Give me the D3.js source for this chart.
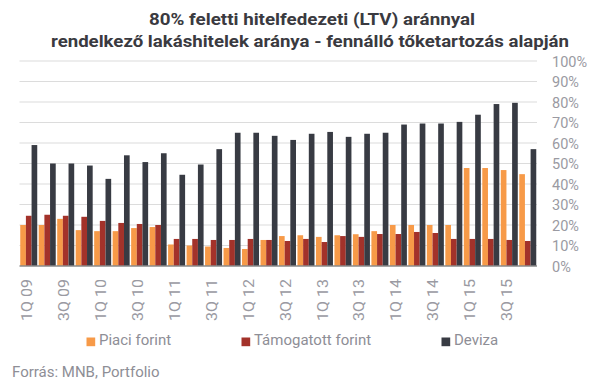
<!DOCTYPE html>
<html>
<head>
<meta charset="utf-8">
<script src="https://cdn.jsdelivr.net/npm/d3@7"></script>
<style>
  html, body { margin: 0; padding: 0; background: #fff; }
  svg { display: block; font-family: Roboto, "Noto Sans", sans-serif; }
</style>
</head>
<body>
<svg id="chart" width="608" height="383"></svg>
<script>
const categories = [
  "1Q 09","2Q 09","3Q 09","4Q 09","1Q 10","2Q 10","3Q 10","4Q 10",
  "1Q 11","2Q 11","3Q 11","4Q 11","1Q 12","2Q 12","3Q 12","4Q 12",
  "1Q 13","2Q 13","3Q 13","4Q 13","1Q 14","2Q 14","3Q 14","4Q 14",
  "1Q 15","2Q 15","3Q 15","4Q 15"
];
const piaciForint = [20, 20, 23, 17.5, 17, 17, 18.5, 19, 10.5, 10, 9.5, 8.8, 8.3, 12.7, 14.6, 15, 14.2, 15, 15.5, 17, 20, 20, 20, 20, 47.8, 47.8, 46.8, 44.8];
const tamogatottForint = [24.5, 25, 24.5, 24, 22, 21, 20.5, 20, 13.2, 13.2, 12.7, 12.7, 13.2, 12.7, 12.2, 13.2, 11.7, 14.6, 14.2, 15.6, 15.6, 16.6, 16.1, 13.2, 13.2, 13.2, 12.7, 12.2];
const deviza = [59, 50, 50, 49, 42.5, 54, 50.7, 55, 44.5, 49.5, 57, 65, 65, 63.5, 61.5, 64.5, 65.4, 63, 64.5, 65, 69, 69.5, 69.5, 70.3, 73.8, 79, 79.6, 57];
const seriesNames = ["Piaci forint", "Támogatott forint", "Deviza"];
const seriesColors = ["#F79A48", "#A3322A", "#383B43"];
const yTicks = [0, 10, 20, 30, 40, 50, 60, 70, 80, 90, 100];
const xTickLabels = categories.filter((d, i) => i % 2 === 0);
const titleLines = ["80% feletti hitelfedezeti (LTV) aránnyal", "rendelkező lakáshitelek aránya - fennálló tőketartozás alapján"];
const sourceText = "Forrás: MNB, Portfolio";

const svg = d3.select("#chart");
const plotLeft = 19.5, plotRight = 537, plotTop = 61, plotBottom = 266;

const x = d3.scaleBand().domain(categories).range([plotLeft, plotRight]).paddingInner(0.08).paddingOuter(0.04);
const xs = d3.scaleBand().domain(seriesNames).range([0, x.bandwidth()]);
const y = d3.scaleLinear().domain([0, 100]).range([plotBottom, plotTop]);

// gridlines
svg.append("g").selectAll("line").data(yTicks.filter(d => d > 0)).join("line")
  .attr("x1", plotLeft).attr("x2", plotRight)
  .attr("y1", d => y(d)).attr("y2", d => y(d))
  .attr("stroke", "#dcdcdc").attr("stroke-width", 1.2);

// bars
const data = [piaciForint, tamogatottForint, deviza];
const groups = svg.append("g");
seriesNames.forEach((name, si) => {
  groups.append("g").selectAll("rect").data(data[si]).join("rect")
    .attr("x", (d, i) => x(categories[i]) + xs(name))
    .attr("width", xs.bandwidth())
    .attr("y", d => y(d))
    .attr("height", d => y(0) - y(d))
    .attr("fill", seriesColors[si]);
});

// baseline axis
svg.append("line").attr("x1", plotLeft).attr("x2", plotRight)
  .attr("y1", y(0)).attr("y2", y(0))
  .attr("stroke", "#8a8a8a").attr("stroke-width", 1.6);

// y axis on right
const yAxis = d3.axisRight(y).tickValues(yTicks).tickSize(0).tickPadding(0).tickFormat(d => d + "%");
const yg = svg.append("g").attr("transform", `translate(552,0)`).call(yAxis);
yg.select(".domain").remove();
yg.selectAll("text").attr("fill", "#9a9aa2").style("font-size", "14.5px").style("font-family", "Roboto, sans-serif").attr("x", 0).attr("dy", "0.35em");

// x axis labels rotated
const xAxis = d3.axisBottom(x).tickValues(xTickLabels).tickSize(0).tickPadding(0);
const xg = svg.append("g").attr("transform", `translate(-2,${plotBottom})`).call(xAxis);
xg.select(".domain").remove();
xg.selectAll("text")
  .attr("fill", "#9a9aa2").style("font-size", "14.5px").style("font-family", "Roboto, sans-serif")
  .attr("text-anchor", "end")
  .attr("dy", "0.35em")
  .attr("y", 0).attr("x", 0)
  .attr("transform", "translate(0,13) rotate(-90)")
  .attr("textLength", 42).attr("lengthAdjust", "spacingAndGlyphs");

// title
svg.append("g").selectAll("text").data(titleLines).join("text")
  .attr("x", (d, i) => i === 0 ? 312 : 310)
  .attr("y", (d, i) => i === 0 ? 25 : 47)
  .attr("text-anchor", "middle")
  .attr("fill", "#3a3a40")
  .style("font-size", "16.5px").style("font-weight", "bold")
  .attr("textLength", (d, i) => i === 0 ? 326 : 518)
  .attr("lengthAdjust", "spacingAndGlyphs")
  .text(d => d);

// legend
const legendX = [86.5, 241.5, 441.5];
const lg = svg.append("g").selectAll("g").data(seriesNames).join("g")
  .attr("transform", (d, i) => `translate(${legendX[i]},337.5)`);
lg.append("rect").attr("width", 8.7).attr("height", 8.7).attr("fill", (d, i) => seriesColors[i]);
lg.append("text").attr("x", 12.5).attr("y", 7)
  .attr("fill", "#8e8e96").style("font-size", "15px").text(d => d);

// source
svg.append("text").attr("x", 12).attr("y", 377)
  .attr("fill", "#8e8e96").style("font-size", "15px").text(sourceText);
</script>
</body>
</html>
